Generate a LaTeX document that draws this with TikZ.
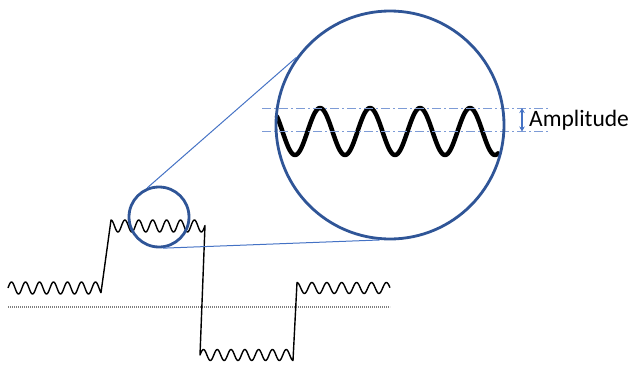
\documentclass[tikz,border=0pt]{standalone}
\usepackage{fontspec}
\newfontfamily\calib{Carlito}
\usetikzlibrary{arrows.meta}
\definecolor{ringblue}{HTML}{2F5597}
\definecolor{lineblue}{HTML}{4472C4}
\definecolor{dashblue}{HTML}{7D9BD6}
\definecolor{dotgray}{HTML}{7F7F7F}
\tikzset{
  ring/.style={circle, draw=ringblue, line width=2.8pt, inner sep=0pt},
  zoomline/.style={draw=lineblue, line width=1pt},
  smallwave/.style={draw=black, line width=1.4pt, line join=round},
  bigwave/.style={draw=black, line width=4.5pt, line cap=round, line join=round},
  levelline/.style={draw=dashblue, line width=1pt, dash pattern=on 9pt off 3pt on 2pt off 3pt},
  baseline/.style={draw=dotgray, line width=2pt, dash pattern=on 1.2pt off 0.8pt},
  amparrow/.style={draw=lineblue, line width=1.2pt, {Stealth[length=5pt,width=5.5pt]}-{Stealth[length=5pt,width=5.5pt]}},
  amplabel/.style={anchor=west, inner sep=0pt, font=\calib\fontsize{23.5}{28}\selectfont, text=black}
}
\begin{document}
\begin{tikzpicture}[x=1pt,y=-1pt]
\useasboundingbox (0,0) rectangle (632,372);
% dotted reference line
\draw[baseline] (8,307) -- (390,307);
% square wave with ripple
\draw[smallwave]
  plot[domain=8:101,samples=160] (\x,{288-6*sin(360*((\x-8)/14))})
  -- plot[domain=111:205,samples=160] (\x,{226-6*cos(360*((\x-111)/13.9))})
  -- plot[domain=200:293,samples=160] (\x,{355-5.5*sin(360*((\x-200)/13.8))})
  -- plot[domain=297:390,samples=160] (\x,{288-5.5*cos(360*((\x-297)/14.9))});
% magnified wave
\draw[bigwave] plot[domain=277:498,samples=200] (\x,{131.5-23.5*cos(360*((\x-320)/50))});
% level lines
\coordinate (l1a) at (262,108);
\coordinate (l1b) at (550,108);
\coordinate (l2a) at (262,131.5);
\coordinate (l2b) at (550,131.5);
\draw[levelline] (l1a) -- (l1b);
\draw[levelline] (l2a) -- (l2b);
% circles
\node[ring, minimum size=60pt] (zs) at (159,217) {};
\node[ring, minimum size=228pt] (zb) at (390,125) {};
% zoom lines
\draw[zoomline] (zs.112) -- (zb.144);
\draw[zoomline] (zs.277) -- (zb.265);
% amplitude arrow and label
\coordinate (at) at (522,108);
\coordinate (ab) at (522,131.5);
\draw[amparrow] (at) -- (ab);
\node[amplabel] (lbl) at (529,120) {Amplitude};
\end{tikzpicture}
\end{document}
